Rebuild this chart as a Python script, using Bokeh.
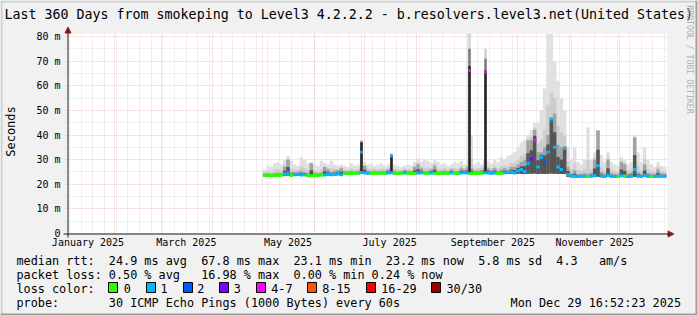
import numpy as np
from bokeh.plotting import figure
from bokeh.models import (Range1d, FixedTicker, Grid, Label, BoxAnnotation,
                          Arrow, NormalHead, ColumnDataSource)
from bokeh.embed import file_html
from bokeh.resources import INLINE

# ---------------- data ----------------
# time in days since 2025-01-01 00:00
T_START = 2.703          # Jan 3 2025 16:52
T_END = 362.703          # Dec 29 2025 16:52
Y_MAX = 81.22
FIRST_DAY = 121.0
STEP = 2.0

median_ms = [
    23.6, 23.6, 23.5, 23.6, 23.6, 23.7, 24.2, 24.5, 23.6, 23.9,
    24.0, 23.8, 23.9, 23.6, 23.5, 23.6, 23.6, 23.7, 23.8, 24.3,
    23.9, 24.0, 24.4, 23.9, 24.5, 24.5, 24.4, 24.5, 24.5, 24.8,
    24.6, 24.5, 24.5, 24.4, 24.5, 24.5, 24.4, 24.6, 24.7, 24.5,
    24.4, 24.5, 24.6, 24.5, 24.4, 24.5, 24.6, 24.7, 24.5, 24.4,
    24.6, 24.5, 24.4, 24.5, 24.5, 24.4, 24.6, 24.5, 24.4, 24.6,
    24.7, 24.6, 24.4, 24.5, 24.4, 24.5, 24.7, 24.6, 24.5, 24.6,
    24.4, 24.5, 24.7, 24.8, 25.0, 24.6, 25.5, 26.0, 25.2, 28.4,
    30.3, 37.8, 27.0, 31.0, 29.0, 33.0, 46.5, 35.0, 27.0, 26.0,
    34.5, 24.0, 23.3, 23.2, 23.1, 23.2, 23.2, 23.1, 23.3, 23.5,
    27.6, 23.3, 23.1, 23.6, 23.2, 23.1, 23.1, 23.5, 23.3, 23.1,
    23.2, 26.0, 23.4, 23.1, 23.6, 23.2, 23.1, 23.1, 23.4, 23.2,
    23.2,
]
loss_class = [
    0, 0, 0, 0, 0, 0, 1, 1, 0, 1,
    1, 1, 1, 0, 0, 0, 0, 0, 1, 1,
    1, 1, 1, 1, 0, 0, 0, 0, 0, 1,
    1, 1, 0, 0, 0, 0, 0, 1, 1, 0,
    0, 0, 1, 0, 0, 0, 1, 1, 0, 0,
    1, 0, 0, 0, 0, 0, 1, 0, 0, 1,
    1, 1, 0, 0, 0, 0, 1, 1, 1, 1,
    0, 0, 1, 1, 1, 1, 1, 1, 1, 1,
    3, 4, 1, 1, 2, 1, 1, 1, 1, 1,
    1, 1, 1, 1, 1, 1, 1, 0, 1, 1,
    1, 1, 1, 1, 1, 1, 0, 1, 0, 1,
    1, 1, 1, 1, 1, 1, 0, 1, 1, 1,
    1,
]
smoke_min = [
    23.2, 23.2, 23.1, 23.2, 23.2, 23.3, 23.5, 23.6, 23.2, 23.4,
    23.5, 23.4, 23.4, 23.2, 23.1, 23.2, 23.2, 23.3, 23.4, 23.6,
    23.4, 23.5, 23.7, 23.4, 24.0, 24.1, 24.0, 24.1, 24.1, 24.2,
    24.2, 24.1, 24.1, 24.0, 24.1, 24.1, 24.0, 24.2, 24.2, 24.1,
    24.0, 24.1, 24.2, 24.1, 24.0, 24.1, 24.2, 24.2, 24.1, 24.0,
    24.2, 24.1, 24.0, 24.1, 24.1, 24.0, 24.2, 24.1, 24.0, 24.2,
    24.2, 24.2, 24.0, 24.1, 24.0, 24.1, 24.2, 24.2, 24.1, 24.2,
    24.0, 24.1, 24.2, 24.2, 24.3, 24.2, 24.3, 24.3, 24.2, 24.3,
    24.3, 24.4, 24.2, 24.3, 24.2, 24.3, 24.4, 24.3, 24.2, 24.2,
    24.2, 23.0, 22.8, 22.8, 22.7, 22.8, 22.8, 22.7, 22.8, 22.9,
    23.0, 22.8, 22.7, 22.9, 22.8, 22.7, 22.7, 22.9, 22.8, 22.7,
    22.8, 23.0, 22.8, 22.7, 22.9, 22.8, 22.7, 22.7, 22.8, 22.8,
    22.8,
]
smoke_dense_top = [
    24.4, 24.5, 24.3, 24.6, 24.8, 24.6, 27.0, 30.0, 25.0, 25.0,
    25.2, 25.5, 25.0, 24.6, 28.4, 24.8, 24.5, 24.8, 27.0, 26.0,
    25.0, 25.5, 25.8, 26.5, 25.3, 25.3, 25.5, 25.3, 25.4, 26.5,
    27.5, 25.5, 25.3, 25.5, 25.3, 25.4, 25.5, 26.0, 27.0, 25.5,
    25.2, 25.3, 25.8, 25.5, 25.4, 27.0, 28.0, 26.5, 25.4, 25.5,
    26.0, 27.5, 25.3, 25.4, 25.6, 25.3, 26.0, 25.5, 25.4, 26.5,
    26.0, 27.0, 26.5, 25.6, 25.5, 25.8, 27.0, 26.5, 25.8, 26.5,
    25.5, 26.0, 26.5, 26.0, 27.0, 27.0, 28.0, 29.0, 30.0, 37.8,
    38.0, 42.0, 33.0, 33.0, 35.0, 40.0, 47.0, 48.7, 36.0, 35.0,
    35.5, 27.0, 24.5, 25.6, 24.2, 24.3, 24.5, 24.2, 24.6, 30.0,
    41.8, 25.0, 24.3, 30.0, 24.5, 24.3, 24.2, 29.0, 28.0, 24.4,
    24.8, 39.0, 25.0, 24.3, 28.0, 24.6, 24.2, 24.3, 26.0, 24.5,
    24.4,
]
smoke_max = [
    26.0, 27.5, 27.0, 28.5, 29.0, 28.0, 30.0, 31.5, 29.5, 28.0,
    27.5, 31.0, 30.0, 28.5, 29.0, 28.0, 27.5, 29.5, 28.5, 28.0,
    29.5, 28.0, 27.5, 28.0, 27.5, 27.0, 28.5, 27.5, 28.0, 30.0,
    29.0, 28.0, 28.5, 27.5, 28.0, 28.5, 27.5, 28.0, 29.0, 28.0,
    27.5, 27.0, 27.5, 28.0, 27.5, 29.0, 30.5, 29.0, 30.0, 29.5,
    28.5, 30.0, 29.0, 28.0, 28.5, 27.5, 28.0, 29.0, 28.5, 29.5,
    28.0, 30.0, 40.0, 28.0, 29.0, 28.0, 30.0, 29.5, 28.5, 30.0,
    29.0, 31.0, 30.0, 31.5, 32.0, 33.0, 35.0, 37.0, 38.0, 40.0,
    42.0, 45.0, 45.0, 50.0, 59.0, 81.0, 81.0, 70.0, 62.0, 55.0,
    50.0, 35.0, 30.0, 35.0, 29.0, 28.0, 30.0, 43.0, 30.0, 33.0,
    42.0, 32.0, 29.0, 33.0, 29.0, 28.0, 27.5, 31.0, 30.0, 28.0,
    29.0, 40.0, 33.0, 29.0, 35.0, 30.0, 28.0, 27.0, 29.0, 27.5,
    27.0,
]

# isolated latency spikes
spike_day = [179.1, 197.1, 243.9, 253.5]
spike_median = [33.0, 31.5, 66.2, 65.5]
spike_loss = [1, 1, 4, 4]
spike_min = [24.2, 24.2, 24.3, 24.3]
spike_black_top = [37.0, 31.7, 68.0, 66.2]
spike_dark_top = [37.5, 32.2, 75.0, 71.0]
spike_max = [38.0, 32.6, 81.2, 75.0]

y_tick_values = [0, 10, 20, 30, 40, 50, 60, 70, 80]
y_tick_labels = ["0", "10 m", "20 m", "30 m", "40 m", "50 m", "60 m", "70 m", "80 m"]
y_minor_values = [5, 15, 25, 35, 45, 55, 65, 75]
x_label_days = [15, 74, 135, 196, 258, 319]
x_label_texts = ["January 2025", "March 2025", "May 2025", "July 2025",
                 "September 2025", "November 2025"]
month_start_days = [31, 59, 90, 120, 151, 181, 212, 243, 273, 304, 334]
week_start_days = list(range(4, 363, 7))

loss_colors = ["#26ff00", "#00b8ff", "#0059ff", "#7e00ff", "#ff00ff",
               "#ff5500", "#ff0000", "#a10000"]
loss_names = ["0", "1", "2", "3", "4-7", "8-15", "16-29", "30/30"]

title_text = ("Last 360 Days from smokeping to Level3 4.2.2.2 - "
              "b.resolvers.level3.net(United States)")
legend_rtt = ("median rtt:  24.9 ms avg  67.8 ms max  23.1 ms min  "
              "23.2 ms now  5.8 ms sd  4.3   am/s")
legend_loss = "packet loss: 0.50 % avg   16.98 % max  0.00 % min 0.24 % now"
legend_probe = "probe:       30 ICMP Echo Pings (1000 Bytes) every 60s"
legend_date = "Mon Dec 29 16:52:23 2025"

# ---------------- figure ----------------
MONO = "DejaVu Sans Mono"
BACK = "#f1f1f1"
AXIS = "#1a1a1a"
ARROW = "#9b1c1c"
MGRID = "#efc6c6"
GRID = "#e0e0e0"

W, H = 697, 315
FL, FT, FW, FH = 67, 33, 600, 200      # plotting area inside the image
XPX = FW / (T_END - T_START)           # pixels per day
YPX = FH / Y_MAX                       # pixels per ms

x_lo = T_START - FL / XPX
x_hi = T_START + (W - FL) / XPX
y_lo = -(H - FT - FH) / YPX
y_hi = (FT + FH) / YPX

p = figure(width=W, height=H, min_border=0,
           x_range=Range1d(x_lo, x_hi), y_range=Range1d(y_lo, y_hi),
           output_backend="svg", toolbar_location=None,
           background_fill_color=BACK, border_fill_color=BACK,
           outline_line_color=None)
p.title.visible = False
p.xgrid.visible = False
p.ygrid.visible = False


def sx(x):
    return x


def sy(y):
    return H - y


def box(x0, y0, x1, y1, fill, line=None, level="overlay"):
    p.add_layout(BoxAnnotation(left=sx(x0), right=sx(x1), top=sy(y0), bottom=sy(y1),
                               left_units="screen", right_units="screen",
                               top_units="screen", bottom_units="screen",
                               fill_color=fill, fill_alpha=1.0,
                               line_color=line, line_alpha=1.0 if line else 0.0,
                               line_width=1, level=level))


def label(x, y, text, size="11.8px", align="left", angle=0.0, color="black"):
    # non-breaking spaces keep the monospace columns of the legend
    p.add_layout(Label(x=sx(x), y=sy(y), x_units="screen", y_units="screen",
                       text=text.replace(" ", "\u00a0"), text_font=MONO,
                       text_font_size=size, text_align=align,
                       text_baseline="middle", angle=angle, text_color=color))


# white canvas of the graph
box(FL, FT, FL + FW, FT + FH, "white", level="underlay")

for dim, ticks, col in [(0, week_start_days, GRID), (1, y_minor_values, GRID),
                        (0, month_start_days, MGRID), (1, y_tick_values[1:], MGRID)]:
    p.add_layout(Grid(dimension=dim, ticker=FixedTicker(ticks=ticks),
                      grid_line_color=col, grid_line_dash="1 1", grid_line_width=1,
                      level="underlay"))

# cover grid lines outside the graph area (y grid sticks out 3px on the left)
box(0, 0, W, FT, BACK, level="underlay")
box(0, FT + FH, W, H, BACK, level="underlay")
box(0, 0, FL - 3, H, BACK, level="underlay")
box(FL + FW, 0, W, H, BACK, level="underlay")

# smoke and median
days = FIRST_DAY + STEP * np.arange(len(median_ms))
med = np.array(median_ms)
lo = np.array(smoke_min)
dk = np.array(smoke_dense_top)
hi = np.array(smoke_max)
src = ColumnDataSource(dict(
    x=days, lo=lo, hi=hi, dk=dk,
    mid=dk + 0.3 * (hi - dk),
    core=med + 0.45 * (dk - med),
    med=med, col=[loss_colors[k] for k in loss_class]))

bw = STEP * 1.02
p.vbar(x="x", width=bw, bottom="lo", top="hi", source=src, fill_color="#e0e0e0", line_color=None)
p.vbar(x="x", width=bw, bottom="lo", top="mid", source=src, fill_color="#cdcdcd", line_color=None)
p.vbar(x="x", width=bw, bottom="lo", top="dk", source=src, fill_color="#a2a2a2", line_color=None)
p.vbar(x="x", width=bw, bottom="lo", top="core", source=src, fill_color="#555555", line_color=None)

ssrc = ColumnDataSource(dict(x=spike_day, lo=spike_min, bt=spike_black_top,
                             dt=spike_dark_top, hi=spike_max, med=spike_median,
                             col=[loss_colors[k] for k in spike_loss]))
sw = 1.4
p.vbar(x="x", width=sw, bottom="lo", top="hi", source=ssrc, fill_color="#cfcfcf", line_color=None)
p.vbar(x="x", width=sw, bottom="lo", top="dt", source=ssrc, fill_color="#777777", line_color=None)
p.vbar(x="x", width=sw, bottom="lo", top="bt", source=ssrc, fill_color="#222222", line_color=None)

p.rect(x="x", y="med", width=bw, height=3, height_units="screen", source=src,
       fill_color="col", line_color=None)
p.rect(x="x", y="med", width=sw, height=3, height_units="screen", source=ssrc,
       fill_color="col", line_color=None)

# axes, drawn at fixed positions inside the canvas
xa = p.xaxis[0]
xa.fixed_location = 0
xa.ticker = FixedTicker(ticks=x_label_days)
xa.major_label_overrides = {d: t for d, t in zip(x_label_days, x_label_texts)}
xa.major_tick_line_color = None
xa.major_tick_out = 0
xa.major_tick_in = 0
xa.minor_tick_line_color = None
xa.axis_line_color = None
xa.major_label_text_font = MONO
xa.major_label_text_font_size = "10px"
xa.major_label_text_color = "black"
xa.major_label_standoff = 3

ya = p.yaxis[0]
ya.fixed_location = T_START
ya.ticker = FixedTicker(ticks=y_tick_values)
ya.major_label_overrides = {v: t for v, t in zip(y_tick_values, y_tick_labels)}
ya.major_tick_line_color = None
ya.major_tick_out = 0
ya.major_tick_in = 0
ya.minor_tick_line_color = None
ya.axis_line_color = None
ya.major_label_text_font = MONO
ya.major_label_text_font_size = "10px"
ya.major_label_text_color = "black"
ya.major_label_standoff = 7

# 3-D frame of the image
box(0, 0, W, 2, "#cfcfcf")
box(0, 0, 2, H, "#cfcfcf")
box(0, H - 2, W, H, "#9e9e9e")
box(W - 2, 0, W, H, "#9e9e9e")

# axis lines with arrows
box(FL, 29, FL + 1, FT + FH + 4, AXIS)
box(FL - 4, FT + FH, FL + FW + 3, FT + FH + 1, AXIS)
p.add_layout(Arrow(end=NormalHead(size=6, fill_color=ARROW, line_color=ARROW),
                   x_start=sx(FL + 0.5), y_start=sy(31), x_end=sx(FL + 0.5), y_end=sy(26.5),
                   start_units="screen", end_units="screen",
                   line_color=ARROW, line_width=1))
p.add_layout(Arrow(end=NormalHead(size=6, fill_color=ARROW, line_color=ARROW),
                   x_start=sx(668), y_start=sy(FT + FH + 0.5), x_end=sx(673.5),
                   y_end=sy(FT + FH + 0.5),
                   start_units="screen", end_units="screen",
                   line_color=ARROW, line_width=1))

# texts
label(4, 13.7, title_text, size="13.3px")
label(689, 59, "RRDTOOL / TOBI OETIKER", size="8.2px", align="center",
      angle=-np.pi / 2, color="#b0b0b0")
label(10.5, 131, "Seconds", size="12px", align="center", angle=np.pi / 2)

label(16, 260, legend_rtt)
label(16, 274, legend_loss)
label(16, 288, "loss color:")
label(16, 302, legend_probe)
label(680.5, 302, legend_date, align="right")

swatch_x = [108.3, 145.7, 182.7, 219.3, 256.0, 307.3, 366.0, 430.7]
name_x = [123.3, 160.0, 196.7, 233.3, 270.7, 321.7, 380.7, 446.0]
for xs, xn, c, n in zip(swatch_x, name_x, loss_colors, loss_names):
    box(round(xs), 282, round(xs) + 9, 292, c, "black")
    label(xn, 288, n)

open("out.html", "w").write(file_html(p, INLINE, title="smokeping"))
